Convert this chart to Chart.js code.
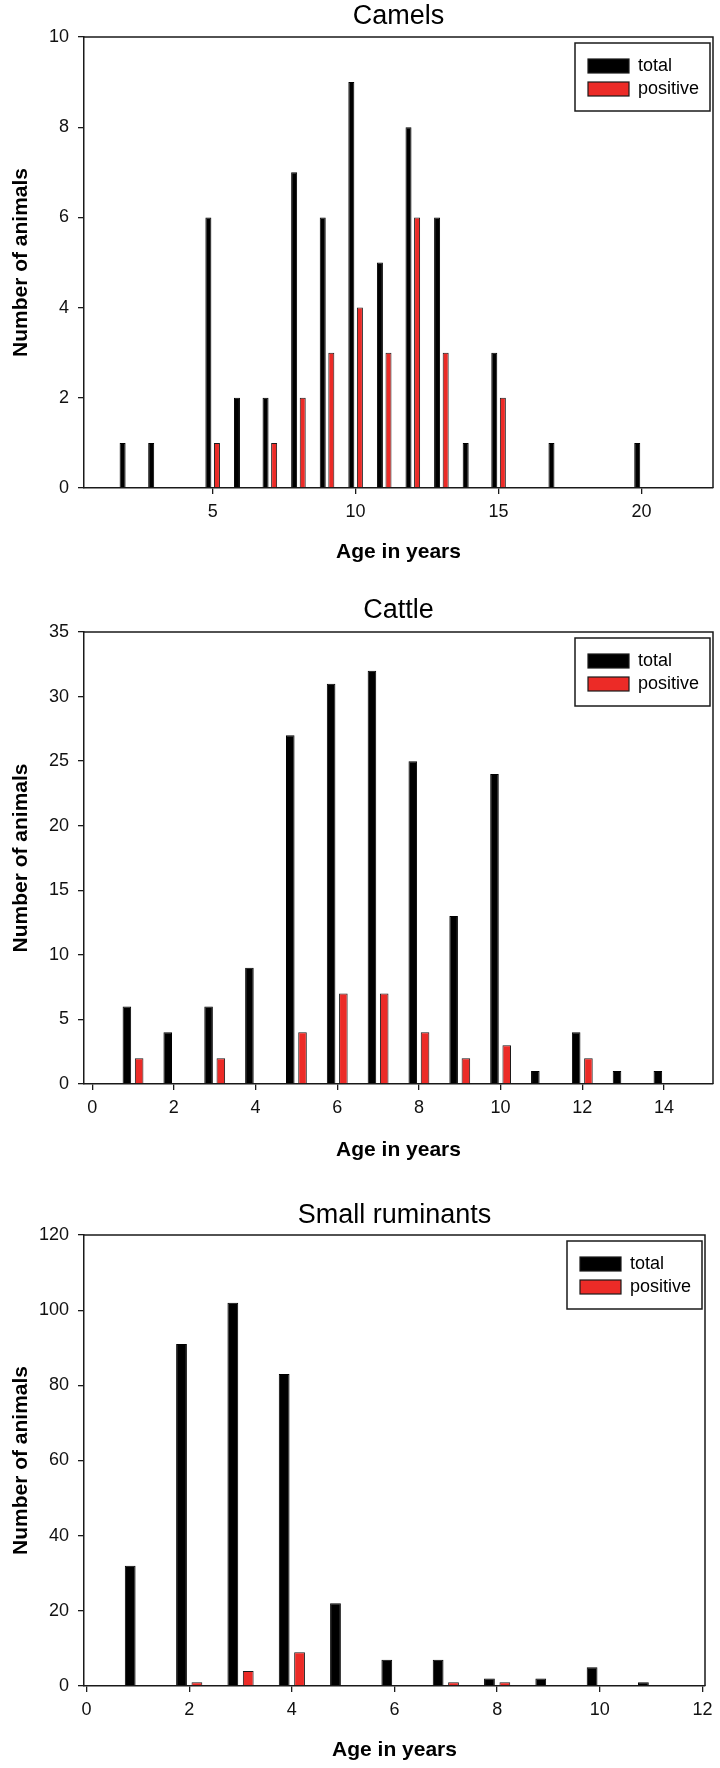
<!DOCTYPE html>
<html>
<head>
<meta charset="utf-8">
<script src="https://cdn.jsdelivr.net/npm/chart.js@4.4.0/dist/chart.umd.min.js"></script>
<style>
  body { margin:0; background:#fff; width:720px; height:1768px; position:relative; overflow:hidden; }
  .panel { position:absolute; left:0; width:720px; }
</style>
</head>
<body>
<div class="panel" style="top:0px"><canvas id="camels" width="720" height="575"></canvas></div>
<div class="panel" style="top:575px"><canvas id="cattle" width="720" height="600"></canvas></div>
<div class="panel" style="top:1175px"><canvas id="small" width="720" height="593"></canvas></div>
<script>
// ---- data ----
const seriesLabels = ['total', 'positive'];

// Camels
const camelAges     = [2, 3, 5, 6, 7, 8, 9, 10, 11, 12, 13, 14, 15, 17, 20];
const camelTotal    = [1, 1, 6, 2, 2, 7, 6, 9, 5, 8, 6, 1, 3, 1, 1];
const camelPositive = [null, null, 1, null, 1, 2, 3, 4, 3, 6, 3, null, 2, null, null];
const camelXTicks   = [5, 10, 15, 20];
const camelYTicks   = [0, 2, 4, 6, 8, 10];

// Cattle
const cattleAges     = [1, 2, 3, 4, 5, 6, 7, 8, 9, 10, 11, 12, 13, 14];
const cattleTotal    = [6, 4, 6, 9, 27, 31, 32, 25, 13, 24, 1, 4, 1, 1];
const cattlePositive = [2, null, 2, null, 4, 7, 7, 4, 2, 3, null, 2, null, null];
const cattleXTicks   = [0, 2, 4, 6, 8, 10, 12, 14];
const cattleYTicks   = [0, 5, 10, 15, 20, 25, 30, 35];

// Small ruminants
const smallAges     = [1, 2, 3, 4, 5, 6, 7, 8, 9, 10, 11];
const smallTotal    = [32, 91, 102, 83, 22, 7, 7, 2, 2, 5, 1];
const smallPositive = [null, 1, 4, 9, null, null, 1, 1, null, null, null];
const smallXTicks   = [0, 2, 4, 6, 8, 10, 12];
const smallYTicks   = [0, 20, 40, 60, 80, 100, 120];

const FONT = '"Liberation Sans", Arial, Helvetica, sans-serif';
const INK = '#1a1a1a';

// frame (top/right), panel title and boxed legend inside the plot
const panelDecor = {
  id: 'panelDecor',
  afterDraw(chart, args, opts) {
    const { ctx, chartArea: a } = chart;
    ctx.save();
    ctx.strokeStyle = INK;
    ctx.lineWidth = 1.5;
    ctx.beginPath();
    ctx.moveTo(a.left, a.top);
    ctx.lineTo(a.right, a.top);
    ctx.lineTo(a.right, a.bottom);
    ctx.stroke();

    ctx.fillStyle = '#000';
    ctx.font = '27px ' + FONT;
    ctx.textAlign = 'center';
    ctx.textBaseline = 'middle';
    ctx.fillText(opts.text, (a.left + a.right) / 2, opts.titleY);

    // legend
    const bw = 135, bh = 68;
    const bx = a.right - 3 - bw, by = a.top + 6;
    ctx.fillStyle = '#fff';
    ctx.fillRect(bx, by, bw, bh);
    ctx.lineWidth = 1.5;
    ctx.strokeStyle = INK;
    ctx.strokeRect(bx, by, bw, bh);
    ctx.font = '18px ' + FONT;
    ctx.textAlign = 'left';
    chart.data.datasets.forEach((ds, i) => {
      const sy = by + 16 + i * 23;
      ctx.fillStyle = ds.backgroundColor;
      ctx.fillRect(bx + 13, sy, 41, 14);
      ctx.lineWidth = 1.2;
      ctx.strokeStyle = INK;
      ctx.strokeRect(bx + 13, sy, 41, 14);
      ctx.fillStyle = '#000';
      ctx.fillText(ds.label, bx + 63, sy + 7);
    });
    ctx.restore();
  }
};

function makePanel(id, p) {
  const toPts = arr => p.ages.map((a, i) => ({ x: a, y: arr[i] }));
  new Chart(document.getElementById(id), {
    type: 'bar',
    data: {
      datasets: [
        { label: seriesLabels[0], data: toPts(p.total), backgroundColor: '#000000', borderColor: '#000000', borderWidth: 1 },
        { label: seriesLabels[1], data: toPts(p.positive), backgroundColor: '#ec2b27', borderColor: INK, borderWidth: 1 }
      ]
    },
    options: {
      responsive: false,
      animation: false,
      categoryPercentage: 0.6,
      barPercentage: 0.7,
      layout: { padding: { top: p.plotTop, right: p.padRight, bottom: 0, left: 0 } },
      plugins: {
        legend: { display: false },
        tooltip: { enabled: false },
        panelDecor: { text: p.title, titleY: p.titleY }
      },
      scales: {
        x: {
          type: 'linear',
          min: p.xMin, max: p.xMax,
          offset: false,
          afterBuildTicks: s => { s.ticks = p.xTicks.map(v => ({ value: v })); },
          afterFit: s => { s.height = p.xHeight; },
          grid: { offset: false, drawOnChartArea: false, drawTicks: true, tickLength: 6, color: INK, lineWidth: 1.3 },
          border: { display: true, color: INK, width: 1.5 },
          ticks: { color: '#111', padding: 7, maxRotation: 0, font: { family: FONT, size: 18 } },
          title: { display: true, text: 'Age in years', color: '#000', padding: { top: 0, bottom: p.xTitlePad },
                   font: { family: FONT, size: 21, weight: 'bold' } }
        },
        y: {
          min: 0, max: p.yTicks[p.yTicks.length - 1],
          afterBuildTicks: s => { s.ticks = p.yTicks.map(v => ({ value: v })); },
          afterFit: s => { s.width = 84; },
          grid: { drawOnChartArea: false, drawTicks: true, tickLength: 6, color: INK, lineWidth: 1.3 },
          border: { display: true, color: INK, width: 1.5 },
          ticks: { color: '#111', padding: 9, font: { family: FONT, size: 18 } },
          title: { display: true, text: 'Number of animals', color: '#000', padding: { top: 9, bottom: 0 },
                   font: { family: FONT, size: 21, weight: 'bold' } }
        }
      }
    },
    plugins: [panelDecor]
  });
}

makePanel('camels', {
  title: 'Camels', ages: camelAges, total: camelTotal, positive: camelPositive,
  xTicks: camelXTicks, yTicks: camelYTicks, xMin: 0.5, xMax: 22.5,
  plotTop: 37, padRight: 7, xHeight: 87, xTitlePad: 10, titleY: 17
});
makePanel('cattle', {
  title: 'Cattle', ages: cattleAges, total: cattleTotal, positive: cattlePositive,
  xTicks: cattleXTicks, yTicks: cattleYTicks, xMin: -0.2, xMax: 15.2,
  plotTop: 57, padRight: 7, xHeight: 91, xTitlePad: 12, titleY: 36
});
makePanel('small', {
  title: 'Small ruminants', ages: smallAges, total: smallTotal, positive: smallPositive,
  xTicks: smallXTicks, yTicks: smallYTicks, xMin: -0.05, xMax: 12.05,
  plotTop: 60, padRight: 15, xHeight: 82, xTitlePad: 5, titleY: 41
});
</script>
</body>
</html>
